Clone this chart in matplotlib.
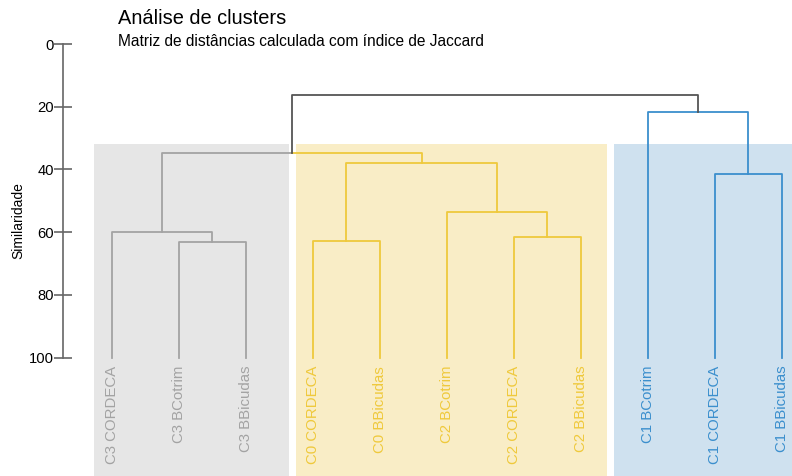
import matplotlib.pyplot as plt
import numpy as np

plt.rcParams['font.family'] = ['Liberation Sans', 'DejaVu Sans']

# leaves in dendrogram order and which group they belong to
leaves = ["C3 CORDECA", "C3 BCotrim", "C3 BBicudas",
          "C0 CORDECA", "C0 BBicudas", "C2 BCotrim", "C2 CORDECA", "C2 BBicudas",
          "C1 BCotrim", "C1 CORDECA", "C1 BBicudas"]
leaf_group = ["g", "g", "g", "y", "y", "y", "y", "y", "b", "b", "b"]

# merges: (left node, right node, similarity), new node ids start at len(leaves)
merges = [
    (1, 2, 63.0),     # 11
    (0, 11, 59.8),    # 12
    (3, 4, 62.7),     # 13
    (6, 7, 61.5),     # 14
    (5, 14, 53.7),    # 15
    (13, 15, 38.0),   # 16
    (9, 10, 41.5),    # 17
    (8, 17, 21.7),    # 18
    (12, 16, 34.7),   # 19
    (19, 18, 16.1),   # 20
]

line_col = {"g": "#a3a3a3", "y": "#efc93c", "b": "#3b8fcd", "root": "#555555"}
bg_col = {"g": "#e6e6e6", "y": "#f9edc6", "b": "#cfe1ef"}
# shaded group bands (in leaf units)
bands = [("g", -0.26, 2.65), ("y", 2.75, 7.39), ("b", 7.5, 10.5)]

fig = plt.figure(figsize=(7.92, 4.76), dpi=100)
ax = fig.add_axes([63 / 792, 0, 1 - 63 / 792, 1 - 44 / 476])

ymax = (476 - 44) / 3.137
ax.set_ylim(ymax, 0)
ax.set_xlim((63 - 111.7) / 67, (792 - 111.7) / 67)

for g, x0, x1 in bands:
    ax.axvspan(x0, x1, ymin=0, ymax=(ymax - 31.9) / ymax, color=bg_col[g], lw=0, zorder=0)

# node positions
xs = {i: float(i) for i in range(len(leaves))}
hs = {i: 100.0 for i in range(len(leaves))}
grp = {i: leaf_group[i] for i in range(len(leaves))}
lw = 1.3
for k, (a, b, h) in enumerate(merges):
    n = len(leaves) + k
    xa, xb = xs[a], xs[b]
    xm = (xa + xb) / 2
    ga, gb = grp[a], grp[b]
    if ga == gb:
        c = line_col[ga]
        ax.plot([xa, xa, xb, xb], [hs[a], h, h, hs[b]], color=c, lw=lw, zorder=2)
        grp[n] = ga
    elif ga in bg_col and gb in bg_col and k < len(merges) - 1:
        # link between two coloured groups: half in each colour
        ax.plot([xa, xa, xm], [hs[a], h, h], color=line_col[ga], lw=lw, zorder=2)
        ax.plot([xm, xb, xb], [h, h, hs[b]], color=line_col[gb], lw=lw, zorder=2)
        grp[n] = "root"
    else:
        ax.plot([xa, xa, xb, xb], [hs[a], h, h, hs[b]], color=line_col["root"], lw=lw, zorder=2)
        grp[n] = "root"
    xs[n] = xm
    hs[n] = h

for i, name in enumerate(leaves):
    ax.text(i, 102.6, name, rotation=90, ha="center", va="top",
            fontsize=10.8, color=line_col[leaf_group[i]])

for s in ["top", "right", "bottom"]:
    ax.spines[s].set_visible(False)
ax.spines["left"].set_bounds(0, 100)
ax.spines["left"].set_color("#666666")
ax.spines["left"].set_linewidth(1.2)
ax.set_yticks([0, 20, 40, 60, 80, 100])
ax.tick_params(axis="y", direction="inout", length=13, width=1.2, color="#666666",
               labelsize=10.6, pad=0)
ax.set_xticks([])
ax.patch.set_alpha(0)

fig.text(118 / 792, 1 - 24 / 476, "Análise de clusters", fontsize=14.4, va="baseline")
fig.text(118 / 792, 1 - 46 / 476, "Matriz de distâncias calculada com índice de Jaccard",
         fontsize=11.2, va="baseline")
fig.text(18 / 792, 1 - 221 / 476, "Similaridade", rotation=90, ha="center", va="center",
         fontsize=10)

fig.savefig("out.png", dpi=100)
